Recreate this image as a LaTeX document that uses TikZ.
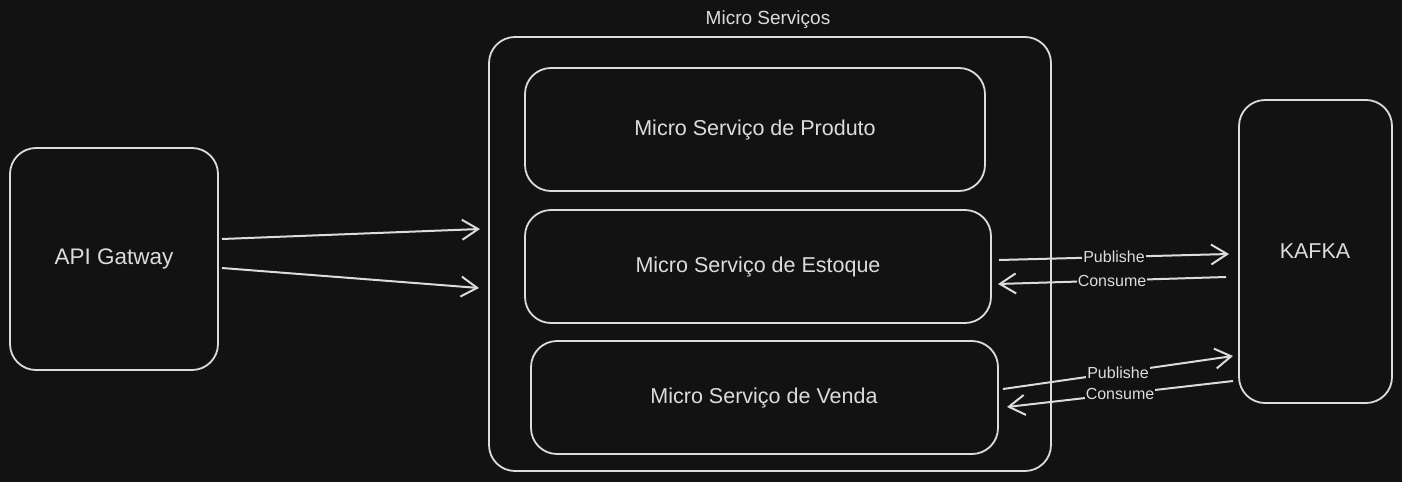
\documentclass[tikz,border=0pt]{standalone}
\usepackage{fontspec}
\setmainfont{Liberation Sans}
\usetikzlibrary{arrows.meta}
\definecolor{bg}{HTML}{121212}
\definecolor{ink}{HTML}{DCDCDC}
\tikzset{
  box/.style={draw=ink, line width=1.8pt, rounded corners=26pt, fill=bg},
  maintext/.style={text=ink, font=\fontsize{21.5}{26}\selectfont},
  conn/.style={draw=ink, line width=2pt, -{Straight Barb[length=16pt,width=20pt,line width=2pt]}},
  lbl/.style={fill=bg, text=ink, inner sep=1pt, font=\fontsize{16}{19}\selectfont},
}
\begin{document}
\begin{tikzpicture}[x=1pt,y=-1pt]
\fill[bg] (0,0) rectangle (1402,482);
\useasboundingbox (0,0) rectangle (1402,482);

% boxes
\draw[box] (10,148) rectangle (218,370);
\node[maintext, font=\fontsize{22.5}{27}\selectfont] (api) at (114,259) {API Gatway};

\draw[box] (489,37) rectangle (1051,471);
\node[maintext, font=\fontsize{19}{23}\selectfont] (ms) at (768,20) {Micro Serviços};

\draw[box] (525,68) rectangle (985,191);
\node[maintext] (prod) at (755,130) {Micro Serviço de Produto};

\draw[box] (525,210) rectangle (991,323);
\node[maintext] (est) at (758,267) {Micro Serviço de Estoque};

\draw[box] (531,341) rectangle (998,454);
\node[maintext] (ven) at (764,398) {Micro Serviço de Venda};

\draw[box] (1239,100) rectangle (1392,403);
\node[maintext] (kafka) at (1315,251) {KAFKA};

% anchor coordinates
\coordinate (a1s) at (222,239);
\coordinate (a1e) at (480,229);
\coordinate (a2s) at (222,268);
\coordinate (a2e) at (479,288);

\coordinate (p1s) at (999,260);
\coordinate (p1e) at (1229,254);
\coordinate (c1s) at (1226,277);
\coordinate (c1e) at (998,284);

\coordinate (p2s) at (1003,389);
\coordinate (p2e) at (1233,356);
\coordinate (c2s) at (1233,381);
\coordinate (c2e) at (1007,407);

\draw[conn] (a1s) -- (a1e);
\draw[conn] (a2s) -- (a2e);

\draw[conn] (p1s) -- node[lbl, pos=0.5] {Publishe} (p1e);
\draw[conn] (c1s) -- node[lbl, pos=0.5] {Consume} (c1e);
\draw[conn] (p2s) -- node[lbl, pos=0.5] {Publishe} (p2e);
\draw[conn] (c2s) -- node[lbl, pos=0.5] {Consume} (c2e);
\end{tikzpicture}
\end{document}
